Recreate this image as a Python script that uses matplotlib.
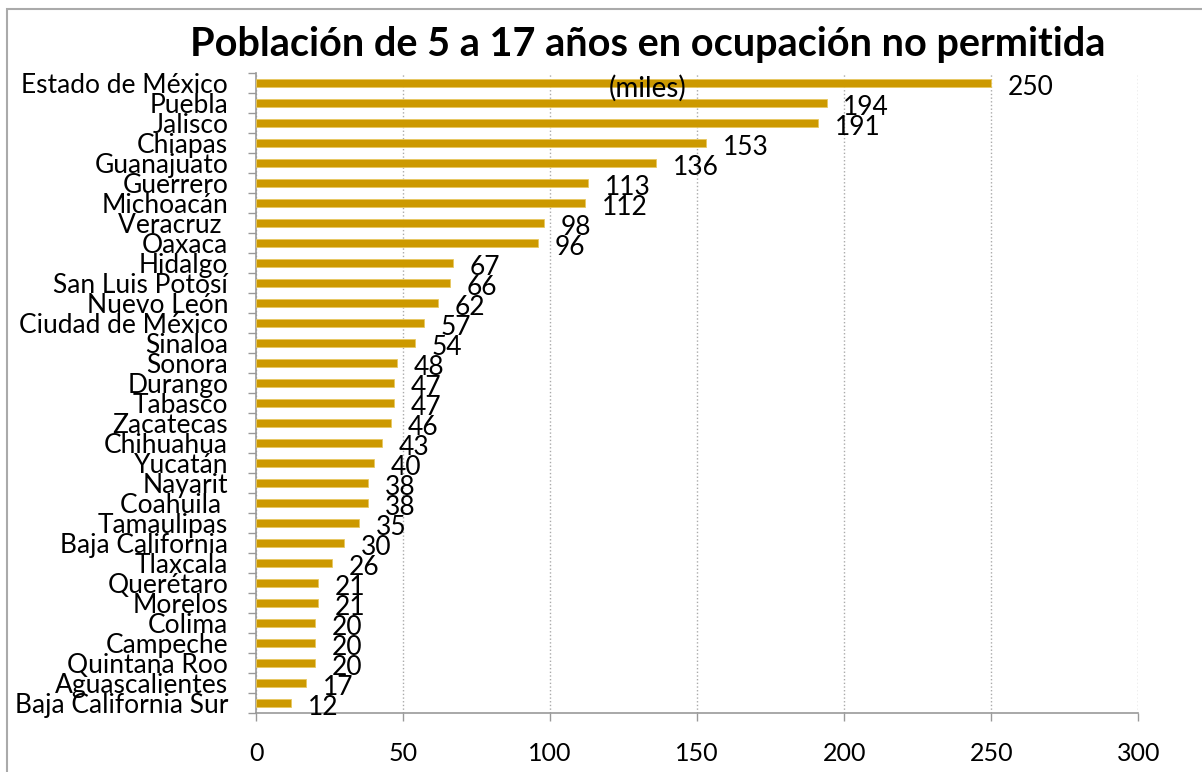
import matplotlib
matplotlib.use("Agg")
import matplotlib.pyplot as plt
from matplotlib.patches import Rectangle
from matplotlib.ticker import FixedLocator

estados = ["Estado de México", "Puebla", "Jalisco", "Chiapas", "Guanajuato",
           "Guerrero", "Michoacán", "Veracruz ", "Oaxaca", "Hidalgo",
           "San Luis Potosí", "Nuevo León", "Ciudad de México", "Sinaloa",
           "Sonora", "Durango", "Tabasco", "Zacatecas", "Chihuahua", "Yucatán",
           "Nayarit", "Coahuila ", "Tamaulipas", "Baja California", "Tlaxcala",
           "Querétaro", "Morelos", "Colima", "Campeche", "Quintana Roo",
           "Aguascalientes", "Baja California Sur"]
miles = [250, 194, 191, 153, 136, 113, 112, 98, 96, 67, 66, 62, 57, 54, 48,
         47, 47, 46, 43, 40, 38, 38, 35, 30, 26, 21, 21, 20, 20, 20, 17, 12]
x_ticks = [0, 50, 100, 150, 200, 250, 300]

plt.rcParams['font.family'] = ['Lato', 'DejaVu Sans']

fig = plt.figure(figsize=(12.02, 7.72), dpi=100)
ax = fig.add_axes([0.213, 0.0764, 0.734, 0.829])

pos = list(range(len(estados)))[::-1]
ax.barh(pos, miles, height=0.4, color='#CC9900', edgecolor='#E8C860', linewidth=0.6, zorder=3)

for p, v in zip(pos, miles):
    ax.annotate(str(v), (v, p), xytext=(12, -3), textcoords='offset points',
                ha='left', va='center', fontsize=19, color='black')

ax.set_xlim(0, 300)
ax.set_ylim(-0.5, len(estados) - 0.5)
ax.set_xticks(x_ticks)
ax.set_yticks(pos)
ax.set_yticklabels(estados)
ax.yaxis.set_minor_locator(FixedLocator([p - 0.5 for p in range(len(estados) + 1)]))

ax.tick_params(axis='y', which='major', length=0, pad=20, labelsize=19)
ax.tick_params(axis='y', which='minor', length=6, color='#999999', width=1)
ax.tick_params(axis='x', length=6, color='#999999', width=1, pad=15, labelsize=18)

ax.grid(axis='x', linestyle=':', color='#AAAAAA', linewidth=1, zorder=0)
for s in ['top', 'right']:
    ax.spines[s].set_visible(False)
for s in ['left', 'bottom']:
    ax.spines[s].set_color('#999999')
    ax.spines[s].set_linewidth(1.2)

fig.text(0.539, 0.942, "Población de 5 a 17 años en ocupación no permitida",
         ha='center', va='center', fontsize=28.5, fontweight='bold')
fig.text(0.539, 0.886, "(miles)", ha='center', va='center', fontsize=20)

fig.patches.append(Rectangle((0.006, -0.1), 1.2, 1.088, transform=fig.transFigure,
                             fill=False, edgecolor='#AAAAAA', linewidth=1.5))

fig.savefig("out.png", dpi=100)
